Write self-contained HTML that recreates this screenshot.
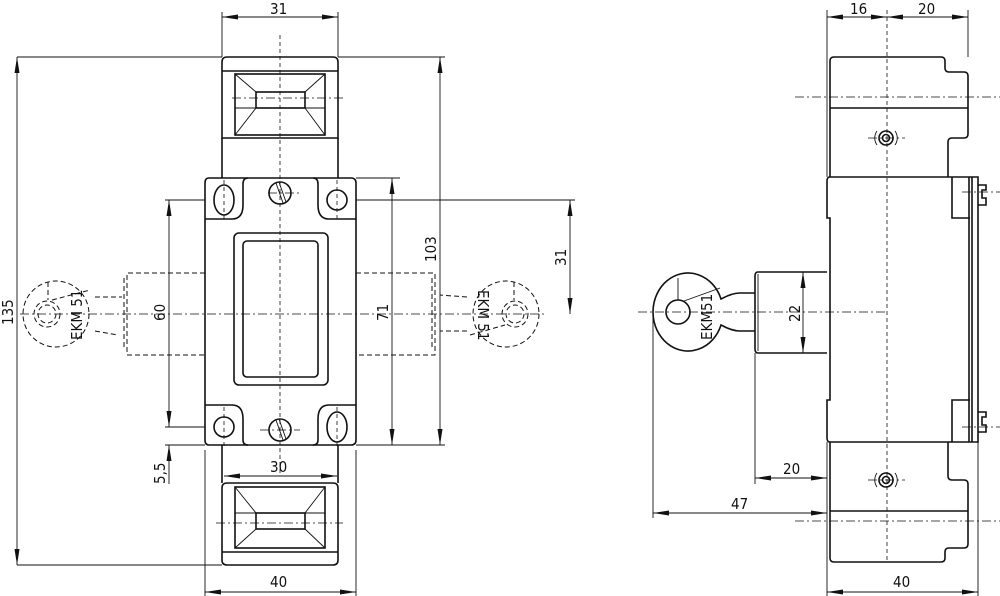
<!DOCTYPE html>
<html><head><meta charset="utf-8"><style>
html,body{margin:0;padding:0;background:#fff}
svg{display:block}
text{font-family:"DejaVu Sans Condensed","Liberation Sans",sans-serif;font-size:15px;fill:#111}
.s{fill:none;stroke:#111;stroke-width:1.6}
.t{fill:none;stroke:#111;stroke-width:0.9}
.d{fill:none;stroke:#111;stroke-width:1;stroke-dasharray:5,3}
.c{fill:none;stroke:#111;stroke-width:0.8;stroke-dasharray:9,3,2,3}
.v{fill:none;stroke:#111;stroke-width:0.8;stroke-dasharray:4,3}
</style></head><body>
<svg width="1000" height="596" viewBox="0 0 1000 596" xmlns="http://www.w3.org/2000/svg">
<defs>
<marker id="a" viewBox="0 0 16 6" refX="16" refY="3" markerWidth="16" markerHeight="6" markerUnits="userSpaceOnUse" orient="auto-start-reverse"><path d="M0,0.5 L16,3 L0,5.5z" fill="#111"/></marker>
</defs>

<!-- ================= LEFT VIEW ================= -->
<path class="s" d="M227,57 H333 Q338,57 338,62 V138 H222 V62 Q222,57 227,57z"/>
<line class="s" x1="222" y1="71" x2="338" y2="71"/>
<rect class="s" x="235" y="74" width="90" height="61"/>
<rect class="s" x="256" y="92" width="49" height="16"/>
<path class="t" d="M235,74 L256,92 M325,74 L305,92 M235,135 L256,108 M325,135 L305,108 M235,108 H256 M305,108 H325"/>
<line class="s" x1="222" y1="138" x2="222" y2="178"/>
<line class="s" x1="338" y1="138" x2="338" y2="178"/>
<path class="s" d="M209,178 H351 Q356,178 356,183 V440 Q356,445 351,445 H209 Q205,445 205,440 V183 Q205,178 209,178z"/>
<path class="s" d="M205,219 H232 Q243,219 243,205 V184 Q243,178 248,178"/>
<path class="s" d="M356,219 H329 Q318,219 318,205 V184 Q318,178 313,178"/>
<path class="s" d="M205,405 H232 Q243,405 243,419 V440 Q243,445 248,445"/>
<path class="s" d="M356,405 H329 Q318,405 318,419 V440 Q318,445 313,445"/>
<ellipse class="s" cx="224" cy="200" rx="10" ry="15"/>
<circle class="s" cx="337" cy="200" r="10"/>
<circle class="s" cx="224" cy="427" r="10"/>
<ellipse class="s" cx="337" cy="427" rx="10" ry="15"/>
<circle class="s" cx="280" cy="193" r="11" stroke-width="2.5"/>
<path class="t" d="M276,183 L283,203 M279,182 L286,202"/>
<circle class="s" cx="280" cy="430" r="11" stroke-width="2.5"/>
<path class="t" d="M276,420 L283,440 M279,419 L286,439"/>
<rect class="s" x="234" y="233" width="94" height="152" rx="5"/>
<rect class="s" x="243" y="241" width="75" height="136" rx="4"/>
<line class="s" x1="222" y1="445" x2="222" y2="483"/>
<line class="s" x1="338" y1="445" x2="338" y2="483"/>
<path class="s" d="M227,483 H333 Q338,483 338,488 V560 Q338,565 333,565 H227 Q222,565 222,560 V488 Q222,483 227,483z"/>
<line class="s" x1="222" y1="552" x2="338" y2="552"/>
<rect class="s" x="235" y="487" width="90" height="61"/>
<rect class="s" x="256" y="513" width="49" height="16"/>
<path class="t" d="M235,487 L256,513 M325,487 L305,513 M235,548 L256,529 M325,548 L305,529 M235,513 H256 M305,513 H325"/>
<path class="d" d="M205,273 H127 V355 H205 M356,273 H435 V355 H356"/>
<line class="d" x1="124" y1="278" x2="124" y2="350"/>
<line class="d" x1="432" y1="278" x2="432" y2="350"/>
<circle class="d" cx="56" cy="314" r="33"/>
<circle class="d" cx="47" cy="314" r="13"/>
<circle class="d" cx="47" cy="314" r="9"/>
<path class="d" d="M95,297 H122 M95,331 L118,335 M48,282 V300 M52,300 L90,290"/>
<circle class="d" cx="506" cy="314" r="33"/>
<circle class="d" cx="515" cy="314" r="13"/>
<circle class="d" cx="515" cy="314" r="9"/>
<path class="d" d="M467,297 L440,295 M467,331 H440 M514,282 V300 M470,335 L505,325"/>
<text transform="translate(82,340) rotate(-90)" font-size="11">EKM 51</text>
<text transform="translate(478,290) rotate(90)" font-size="11">EKM 51</text>
<line class="c" x1="20" y1="314" x2="545" y2="314"/>
<line class="v" x1="280" y1="35" x2="280" y2="475"/>
<line class="c" x1="232" y1="98" x2="345" y2="98"/>
<line class="c" x1="216" y1="523" x2="343" y2="523"/>
<line class="c" x1="268" y1="193" x2="300" y2="193"/>
<line class="c" x1="260" y1="430" x2="300" y2="430"/>
<line class="v" x1="224" y1="180" x2="224" y2="222"/>
<line class="v" x1="337" y1="180" x2="337" y2="222"/>
<line class="v" x1="224" y1="407" x2="224" y2="447"/>
<line class="v" x1="337" y1="407" x2="337" y2="447"/>
<path class="t" d="M222,12 V57 M338,12 V57 M17,57 H222 M338,57 H445 M17,565 H222 M356,178 H400 M165,200 H205 M356,200 H575 M165,445 H205 M356,445 H445 M165,427 H205 M205,450 V596 M356,450 V596"/>
<line class="t" x1="222" y1="17" x2="338" y2="17" marker-start="url(#a)" marker-end="url(#a)"/>
<text x="270" y="14">31</text>
<line class="t" x1="17" y1="57" x2="17" y2="565" marker-start="url(#a)" marker-end="url(#a)"/>
<text transform="translate(13,325) rotate(-90)">135</text>
<line class="t" x1="440" y1="57" x2="440" y2="445" marker-start="url(#a)" marker-end="url(#a)"/>
<text transform="translate(436,262) rotate(-90)">103</text>
<line class="t" x1="392" y1="178" x2="392" y2="445" marker-start="url(#a)" marker-end="url(#a)"/>
<text transform="translate(388,321) rotate(-90)">71</text>
<line class="t" x1="169" y1="200" x2="169" y2="427" marker-start="url(#a)" marker-end="url(#a)"/>
<text transform="translate(165,321) rotate(-90)">60</text>
<line class="t" x1="570" y1="200" x2="570" y2="314" marker-start="url(#a)" marker-end="url(#a)"/>
<text transform="translate(566,266) rotate(-90)">31</text>
<line class="t" x1="169" y1="460" x2="169" y2="445" marker-end="url(#a)"/>
<line class="t" x1="169" y1="484" x2="169" y2="460"/>
<text transform="translate(165,484) rotate(-90)">5,5</text>
<line class="t" x1="224" y1="476" x2="337" y2="476" marker-start="url(#a)" marker-end="url(#a)"/>
<text x="270" y="472">30</text>
<line class="t" x1="205" y1="592" x2="356" y2="592" marker-start="url(#a)" marker-end="url(#a)"/>
<text x="270" y="587">40</text>

<!-- ================= RIGHT VIEW ================= -->
<path class="s" d="M830,177 V61 Q830,57 834,57 H941 Q945,57 945,61 V68 Q945,72 949,72 H964 Q968,72 968,76 V134 Q968,138 964,138 H952 Q948,138 948,142 V177"/>
<line class="s" x1="830" y1="108" x2="968" y2="108"/>
<circle class="s" cx="886" cy="138" r="7"/><circle class="s" cx="886" cy="138" r="3.5"/>
<path class="t" d="M877,131 A12,12 0 0 0 877,145 M895,131 A12,12 0 0 1 895,145"/>
<path class="s" d="M830,177 H978 V442 H830 M830,177 Q827,177 827,181 V218 H830 V400 H827 V438 Q827,442 830,442"/>
<path class="s" d="M952,177 V218 H970 M952,442 V400 H970 M969,177 V442 M972,177 V442"/>
<path class="s" d="M978,185 H986 V190 H982 V198 H986 V205 H978 M978,412 H986 V417 H982 V425 H986 V432 H978"/>
<path class="s" d="M830,442 V558 Q830,562 834,562 H941 Q945,562 945,558 V552 Q945,548 949,548 H964 Q968,548 968,544 V484 Q968,480 964,480 H952 Q948,480 948,476 V442"/>
<line class="s" x1="830" y1="511" x2="968" y2="511"/>
<circle class="s" cx="886" cy="480" r="7"/><circle class="s" cx="886" cy="480" r="3.5"/>
<path class="t" d="M877,473 A12,12 0 0 0 877,487 M895,473 A12,12 0 0 1 895,487"/>
<path class="s" d="M827,272 H758 Q755,272 755,276 V349 Q755,353 758,353 H827"/>
<line class="t" x1="758" y1="274" x2="758" y2="351"/>
<!-- key -->
<path class="s" d="M755,293 H740 Q732,293 721,299 A35,39 0 1 0 721,325 Q732,331 740,331 H755"/>
<circle class="s" cx="678" cy="312" r="12"/>
<path class="t" d="M678,278 V300 M684,301 L720,288"/>
<text transform="translate(712,340) rotate(-90)" font-size="11">EKM51</text>
<line class="v" x1="887" y1="10" x2="887" y2="560"/>
<line class="c" x1="795" y1="97" x2="1000" y2="97"/>
<line class="c" x1="795" y1="521" x2="1000" y2="521"/>
<line class="c" x1="638" y1="312" x2="887" y2="312"/>
<line class="c" x1="962" y1="192" x2="1000" y2="192"/>
<line class="c" x1="962" y1="427" x2="1000" y2="427"/>
<line class="c" x1="868" y1="138" x2="905" y2="138"/>
<line class="c" x1="868" y1="480" x2="905" y2="480"/>
<path class="t" d="M827,10 V177 M968,10 V57 M978,442 V596 M827,442 V596 M755,353 V484 M653,312 V518"/>
<line class="t" x1="827" y1="17" x2="887" y2="17" marker-start="url(#a)" marker-end="url(#a)"/>
<line class="t" x1="887" y1="17" x2="968" y2="17" marker-start="url(#a)" marker-end="url(#a)"/>
<text x="850" y="14">16</text><text x="918" y="14">20</text>
<line class="t" x1="803" y1="272" x2="803" y2="353" marker-start="url(#a)" marker-end="url(#a)"/>
<text transform="translate(800,322) rotate(-90)">22</text>
<line class="t" x1="755" y1="478" x2="827" y2="478" marker-start="url(#a)" marker-end="url(#a)"/>
<text x="783" y="474">20</text>
<line class="t" x1="653" y1="513" x2="827" y2="513" marker-start="url(#a)" marker-end="url(#a)"/>
<text x="731" y="509">47</text>
<line class="t" x1="827" y1="592" x2="978" y2="592" marker-start="url(#a)" marker-end="url(#a)"/>
<text x="893" y="587">40</text>
</svg>
</body></html>
